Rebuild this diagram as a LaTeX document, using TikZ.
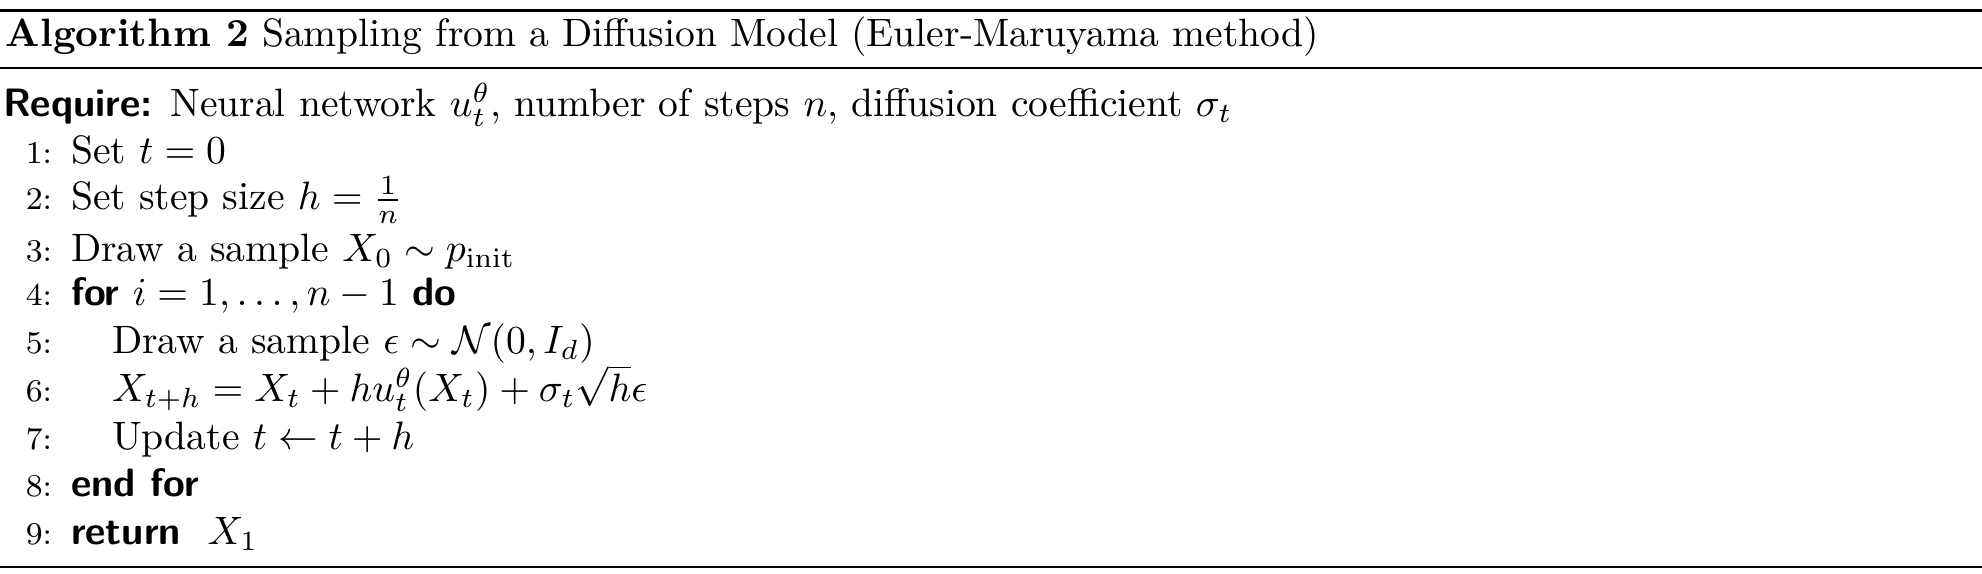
\documentclass[tikz,border=0pt]{standalone}
\usepackage{amsmath}
\begin{document}
\begin{tikzpicture}[x=0.2525pt,y=-0.2525pt,
  txt/.style={anchor=base west,inner sep=0pt,outer sep=0pt,font=\normalsize},
  num/.style={anchor=base east,inner sep=0pt,outer sep=0pt,font=\footnotesize},
  rulethick/.style={line width=0.8pt},
  rulethin/.style={line width=0.45pt}]
\useasboundingbox (0,0) rectangle (1982,574);
\coordinate (tl) at (0,10.5);
\coordinate (tr) at (1982,10.5);
\coordinate (ml) at (0,68);
\coordinate (mr) at (1982,68);
\coordinate (bl) at (0,567);
\coordinate (br) at (1982,567);
\draw[rulethick] (tl) -- (tr);
\draw[rulethin] (ml) -- (mr);
\draw[rulethin] (bl) -- (br);
\node[txt] (title) at (6,47) {\textbf{Algorithm 2} Sampling from a Diffusion Model (Euler-Maruyama method)};
\node[txt] (req) at (3,117) {\textsf{\textbf{Require:}} Neural network $u_t^\theta$, number of steps $n$, diffusion coefficient $\sigma_t$};
\node[num] (n1) at (52,164) {1:};
\node[txt] (l1) at (71,164) {Set $t=0$};
\node[num] (n2) at (52,210) {2:};
\node[txt] (l2) at (71,210) {Set step size $h=\frac{1}{n}$};
\node[num] (n3) at (52,262) {3:};
\node[txt] (l3) at (71,262) {Draw a sample $X_0\sim p_{\mathrm{init}}$};
\node[num] (n4) at (52,306) {4:};
\node[txt] (l4) at (71,306) {\textsf{\textbf{for}} $i=1,\ldots,n-1$ \textsf{\textbf{do}}};
\node[num] (n5) at (52,354) {5:};
\node[txt] (l5) at (112,354) {Draw a sample $\epsilon\sim\mathcal{N}(0,I_d)$};
\node[num] (n6) at (52,402) {6:};
\node[txt] (l6) at (112,402) {$X_{t+h}=X_t+hu_t^\theta(X_t)+\sigma_t\sqrt{h}\epsilon$};
\node[num] (n7) at (52,450) {7:};
\node[txt] (l7) at (112,450) {Update $t\leftarrow t+h$};
\node[num] (n8) at (52,497) {8:};
\node[txt] (l8) at (71,497) {\textsf{\textbf{end for}}};
\node[num] (n9) at (52,545) {9:};
\node[txt] (l9) at (71,545) {\textsf{\textbf{return}} \ $X_1$};
\end{tikzpicture}
\end{document}
